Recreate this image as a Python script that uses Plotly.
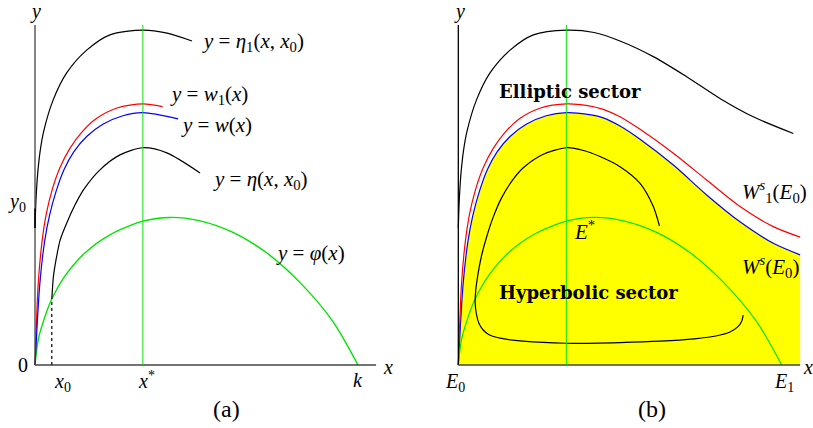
import plotly.graph_objects as go

# ---- panel (a) data (x in units of k, y in units of axis height) ----
phiX = [0, 0.010, 0.031, 0.052, 0.093, 0.155, 0.232, 0.334, 0.418, 0.511, 0.613, 0.717, 0.820, 0.923, 1.000]
phiY = [0, 0.075, 0.143, 0.194, 0.262, 0.330, 0.383, 0.423, 0.434, 0.424, 0.390, 0.330, 0.243, 0.127, 0]

eta1X = [0, 0.003, 0.008, 0.016, 0.027, 0.056, 0.098, 0.160, 0.232, 0.334, 0.409, 0.486]
eta1Y = [0.403, 0.485, 0.560, 0.630, 0.688, 0.779, 0.859, 0.926, 0.971, 0.985, 0.976, 0.953]

w1X = [0, 0.010, 0.022, 0.035, 0.053, 0.077, 0.108, 0.145, 0.190, 0.254, 0.334, 0.395]
w1Y = [0, 0.240, 0.365, 0.445, 0.515, 0.580, 0.637, 0.685, 0.725, 0.756, 0.768, 0.760]

wX = [0, 0.015, 0.030, 0.045, 0.065, 0.090, 0.120, 0.160, 0.210, 0.272, 0.334, 0.443]
wY = [0, 0.240, 0.365, 0.440, 0.510, 0.575, 0.627, 0.672, 0.708, 0.733, 0.742, 0.724]

etaX = [0.052, 0.057, 0.065, 0.078, 0.098, 0.124, 0.150, 0.201, 0.263, 0.334, 0.408, 0.511]
etaY = [0.194, 0.260, 0.309, 0.368, 0.417, 0.471, 0.515, 0.574, 0.618, 0.639, 0.624, 0.565]

xStar = 0.334
x0 = 0.052
y0 = 0.403

# ---- panel (b) data ----
topX = [0, 0.003, 0.008, 0.016, 0.027, 0.056, 0.098, 0.160, 0.232, 0.335, 0.420, 0.500, 0.603, 0.706, 0.809, 0.912, 1.036]
topY = [0.403, 0.485, 0.560, 0.630, 0.688, 0.779, 0.859, 0.926, 0.971, 0.985, 0.978, 0.953, 0.907, 0.848, 0.784, 0.730, 0.681]

W1sX = [0, 0.010, 0.022, 0.035, 0.053, 0.077, 0.108, 0.145, 0.190, 0.254, 0.335, 0.400, 0.448, 0.500, 0.562, 0.665, 0.768, 0.871, 0.974, 1.057]
W1sY = [0, 0.240, 0.365, 0.445, 0.515, 0.580, 0.637, 0.685, 0.725, 0.756, 0.768, 0.763, 0.752, 0.730, 0.693, 0.623, 0.544, 0.466, 0.407, 0.376]

WsX = [0, 0.015, 0.030, 0.045, 0.065, 0.090, 0.120, 0.160, 0.210, 0.272, 0.335, 0.400, 0.448, 0.500, 0.562, 0.665, 0.768, 0.871, 0.974, 1.057]
WsY = [0, 0.240, 0.365, 0.440, 0.510, 0.575, 0.627, 0.672, 0.708, 0.733, 0.742, 0.737, 0.727, 0.703, 0.664, 0.588, 0.500, 0.421, 0.358, 0.324]

orbitX = [0.622, 0.603, 0.562, 0.500, 0.438, 0.390, 0.335, 0.263, 0.201, 0.165, 0.133, 0.108, 0.088, 0.072, 0.061,
          0.054, 0.052, 0.056, 0.064, 0.077, 0.095, 0.129, 0.200, 0.335, 0.500, 0.624, 0.730, 0.800, 0.840, 0.864, 0.876, 0.881]
orbitY = [0.409, 0.466, 0.534, 0.583, 0.613, 0.630, 0.639, 0.620, 0.580, 0.540, 0.490, 0.435, 0.378, 0.322, 0.268,
          0.220, 0.185, 0.150, 0.122, 0.103, 0.089, 0.079, 0.070, 0.064, 0.066, 0.070, 0.077, 0.086, 0.097, 0.112, 0.128, 0.147]

GREEN = '#00e400'
FONT = 'Liberation Serif'

fig = go.Figure()

def curve(x, y, color, xa, ya, width=1.2, **kw):
    fig.add_trace(go.Scatter(x=x, y=y, mode='lines', xaxis=xa, yaxis=ya,
                             line=dict(color=color, width=width, shape='spline', smoothing=0.8),
                             hoverinfo='skip', showlegend=False, **kw))

# panel (a)
curve(phiX, phiY, GREEN, 'x', 'y', 1.4)
curve(eta1X, eta1Y, 'black', 'x', 'y')
curve(w1X, w1Y, 'red', 'x', 'y')
curve(wX, wY, 'blue', 'x', 'y')
curve(etaX, etaY, 'black', 'x', 'y')

# panel (b)
curve(WsX, WsY, 'blue', 'x2', 'y2', fill='tozeroy', fillcolor='#ffff00')
curve(phiX, phiY, GREEN, 'x2', 'y2', 1.2)
curve(topX, topY, 'black', 'x2', 'y2')
curve(W1sX, W1sY, 'red', 'x2', 'y2')
curve(orbitX, orbitY, 'black', 'x2', 'y2')

shapes = [
    # axes (a)
    dict(type='line', xref='x', yref='y', x0=0, y0=0, x1=0, y1=1.0, line=dict(color='#444', width=1.3)),
    dict(type='line', xref='x', yref='y', x0=0, y0=0, x1=1.056, y1=0, line=dict(color='#444', width=1.3)),
    dict(type='line', xref='x', yref='y', x0=xStar, y0=0, x1=xStar, y1=1.0, line=dict(color=GREEN, width=1)),
    dict(type='line', xref='x', yref='y', x0=x0, y0=0, x1=x0, y1=phiY[3], line=dict(color='black', width=1.2, dash='dot')),
    dict(type='line', xref='x', yref='y', x0=0, y0=y0, x1=0, y1=0.46, line=dict(color='black', width=1.5)),
    # axes (b)
    dict(type='line', xref='x2', yref='y2', x0=0, y0=0, x1=0, y1=1.0, line=dict(color='black', width=1.3)),
    dict(type='line', xref='x2', yref='y2', x0=0, y0=0, x1=1.057, y1=0, line=dict(color='#444', width=1.3)),
    dict(type='line', xref='x2', yref='y2', x0=xStar, y0=0, x1=xStar, y1=1.0, line=dict(color=GREEN, width=1)),
]

def label(text, x, y, xa='x', ya='y', anchor='left', size=20, family=FONT, **kw):
    fig.add_annotation(text=text, x=x, y=y, xref=xa, yref=ya, xanchor=anchor, yanchor='middle',
                       showarrow=False, font=dict(family=family, size=size, color='black'), **kw)

# labels (a)
label('<i>y</i>', 0, 1.040, anchor='center')
label('<i>y</i> = <i>η</i><sub>1</sub>(<i>x</i>, <i>x</i><sub>0</sub>)', 0.511, 0.950, size=21)
label('<i>y</i> = <i>w</i><sub>1</sub>(<i>x</i>)', 0.412, 0.794, size=21)
label('<i>y</i> = <i>w</i>(<i>x</i>)', 0.446, 0.706, size=21)
label('<i>y</i> = <i>η</i>(<i>x</i>, <i>x</i><sub>0</sub>)', 0.545, 0.544, size=21)
label('<i>y</i><sub>0</sub>', -0.022, 0.479, anchor='right')
label('<i>y</i> = <i>φ</i>(<i>x</i>)', 0.740, 0.329, size=21)
label('0', -0.015, 0.0, anchor='right')
label('<i>x</i>', 1.070, -0.005, anchor='left')
label('<i>x</i><sub>0</sub>', 0.084, -0.050, anchor='center')
label('<i>x</i><sup>*</sup>', 0.344, -0.044, anchor='center')
label('<i>k</i>', 1.0, -0.044, anchor='center')
label('(a)', 0.594, -0.129, anchor='center', size=24)

# labels (b)
label('<i>y</i>', 0.005, 1.040, 'x2', 'y2', anchor='center')
label('<b>Elliptic sector</b>', 0.119, 0.803, 'x2', 'y2', size=18, family='DejaVu Serif')
label('<i>W</i><sup><i>s</i></sup><sub>1</sub>(<i>E</i><sub>0</sub>)', 0.871, 0.509, 'x2', 'y2', size=21)
label('<i>E</i><sup>*</sup>', 0.351, 0.397, 'x2', 'y2', size=21)
label('<i>W</i><sup><i>s</i></sup>(<i>E</i><sub>0</sub>)', 0.871, 0.289, 'x2', 'y2', size=21)
label('<b>Hyperbolic sector</b>', 0.119, 0.212, 'x2', 'y2', size=18, family='DejaVu Serif')
label('<i>E</i><sub>0</sub>', -0.011, -0.050, 'x2', 'y2', anchor='center')
label('<i>E</i><sub>1</sub>', 1.007, -0.050, 'x2', 'y2', anchor='center')
label('<i>x</i>', 1.060, -0.005, 'x2', 'y2', anchor='left')
label('(b)', 0.598, -0.129, 'x2', 'y2', anchor='center', size=24)

fig.update_layout(
    width=813, height=428,
    margin=dict(l=0, r=0, t=0, b=0),
    paper_bgcolor='white', plot_bgcolor='white',
    shapes=shapes,
    xaxis=dict(domain=[0, 0.5], range=[-0.1084, 1.1502], visible=False, fixedrange=True),
    yaxis=dict(domain=[0, 1], range=[-0.1853, 1.0735], visible=False, fixedrange=True),
    xaxis2=dict(domain=[0.5, 1], range=[-0.1602, 1.0968], visible=False, fixedrange=True, anchor='y2'),
    yaxis2=dict(domain=[0, 1], range=[-0.1853, 1.0735], visible=False, fixedrange=True, anchor='x2'),
)

fig.write_html("out.html", config={'displayModeBar': False},
               post_script="document.body.style.margin='0';")
